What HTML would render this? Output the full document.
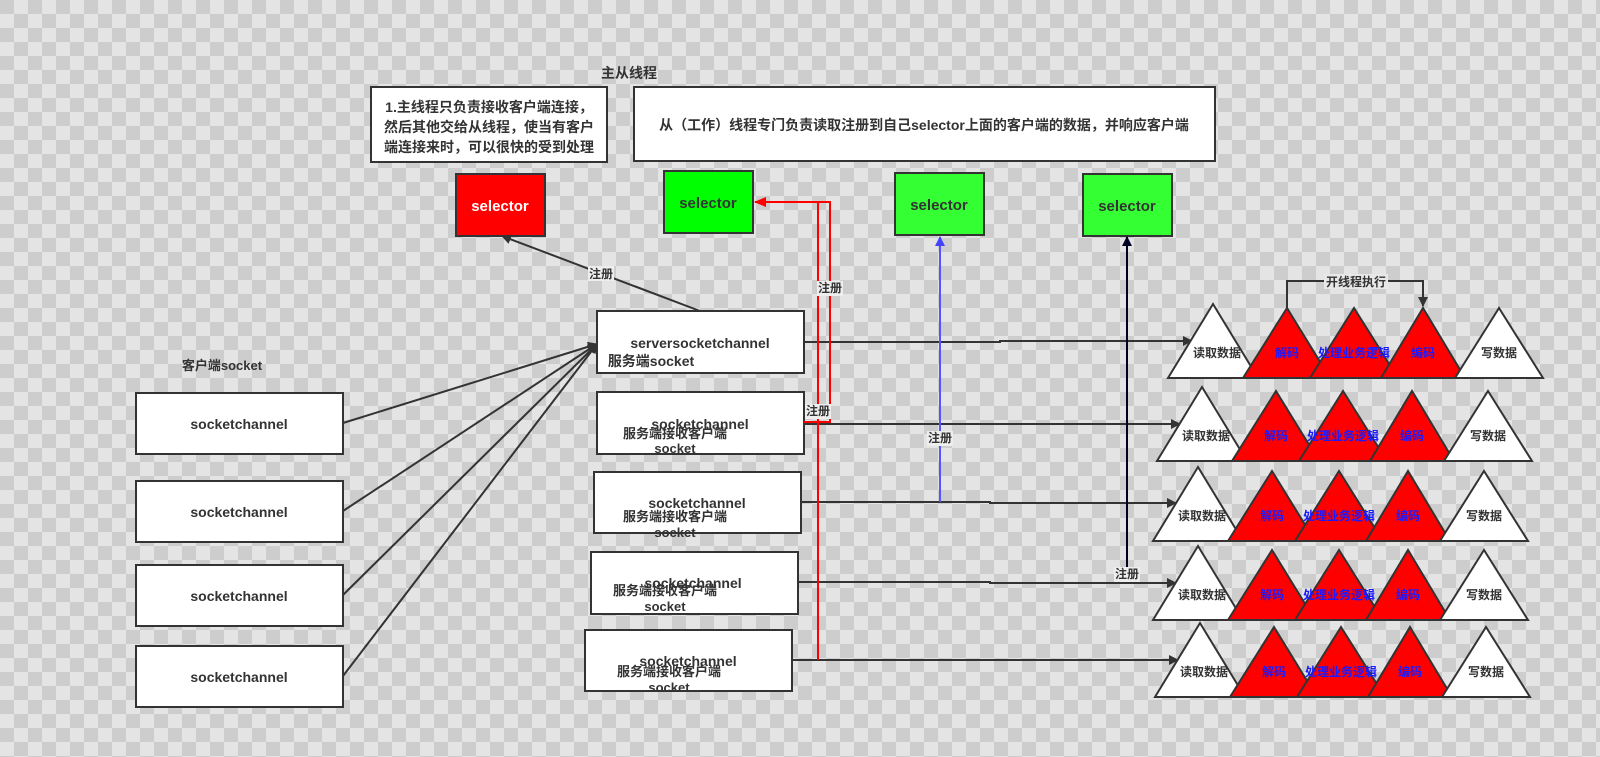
<!DOCTYPE html>
<html><head><meta charset="utf-8"><style>
html,body{margin:0;padding:0;width:1600px;height:757px;overflow:hidden}
svg{display:block}
text{font-family:"Liberation Sans","Noto Sans CJK SC",sans-serif;font-weight:bold}
</style></head><body>
<svg width="1600" height="757" viewBox="0 0 1600 757" xmlns="http://www.w3.org/2000/svg">
<defs>
<pattern id="ck" width="28" height="28" patternUnits="userSpaceOnUse">
<rect width="28" height="28" fill="#e4e4e4"/>
<rect width="14" height="14" fill="#cdcdcd"/><rect x="14" y="14" width="14" height="14" fill="#cdcdcd"/>
</pattern>
<marker id="a" markerWidth="10" markerHeight="10" refX="9" refY="5" orient="auto" markerUnits="userSpaceOnUse"><path d="M0,0L10,5L0,10z" fill="#333"/></marker>
<marker id="ar" markerWidth="12" markerHeight="10" refX="11" refY="5" orient="auto" markerUnits="userSpaceOnUse"><path d="M0,0L12,5L0,10z" fill="#f00"/></marker>
<marker id="ab" markerWidth="10" markerHeight="10" refX="9" refY="5" orient="auto" markerUnits="userSpaceOnUse"><path d="M0,0L10,5L0,10z" fill="#44f"/></marker>
<marker id="an" markerWidth="10" markerHeight="10" refX="9" refY="5" orient="auto" markerUnits="userSpaceOnUse"><path d="M0,0L10,5L0,10z" fill="#002"/></marker>
</defs>
<rect width="1600" height="757" fill="url(#ck)"/>

<g fill="#fff" stroke="#333" stroke-width="2">
<rect x="371" y="87" width="236" height="75"/>
<rect x="634" y="87" width="581" height="74"/>
<rect x="136" y="393" width="207" height="61"/>
<rect x="136" y="481" width="207" height="61"/>
<rect x="136" y="565" width="207" height="61"/>
<rect x="136" y="646" width="207" height="61"/>
<rect x="597" y="311" width="207" height="62"/>
<rect x="597" y="392" width="207" height="62"/>
<rect x="594" y="472" width="207" height="61"/>
<rect x="591" y="552" width="207" height="62"/>
<rect x="585" y="630" width="207" height="61"/>
<rect x="456" y="174" width="89" height="62" fill="#f00"/>
<rect x="664" y="171" width="89" height="62" fill="#00ff00"/>
<rect x="895" y="173" width="89" height="62" fill="#33ff33"/>
<rect x="1083" y="174" width="89" height="62" fill="#33ff33"/>
</g>

<g fill="none" stroke="#333" stroke-width="2">
<path d="M343,423L597,344" marker-end="url(#a)"/>
<path d="M343,511L597,344" marker-end="url(#a)"/>
<path d="M343,595L597,344" marker-end="url(#a)"/>
<path d="M343,676L597,344" marker-end="url(#a)"/>
<path d="M700,311L502,236" marker-end="url(#a)"/>
<path d="M804,342L1000,342L1000,341L1192,341" marker-end="url(#a)"/>
<path d="M804,424L1180,424" marker-end="url(#a)"/>
<path d="M802,502L990,502L990,503L1176,503" marker-end="url(#a)"/>
<path d="M798,582L990,582L990,583L1176,583" marker-end="url(#a)"/>
<path d="M792,660L1178,660" marker-end="url(#a)"/>
</g>
<path d="M818,660L818,202L830,202L830,422L804,422" fill="none" stroke="#f00" stroke-width="2"/>
<path d="M818,202L755,202" fill="none" stroke="#f00" stroke-width="2" marker-end="url(#ar)"/>
<path d="M940,502L940,237" fill="none" stroke="#55f" stroke-width="2" marker-end="url(#ab)"/>
<path d="M1127,582L1127,237" fill="none" stroke="#002" stroke-width="2" marker-end="url(#an)"/>

<g stroke="#333" stroke-width="2">
<polygon points="1168,378 1213,304 1258,378" fill="#fff"/>
<polygon points="1243,378 1287,308 1330,378" fill="#f00"/>
<polygon points="1310,378 1354,308 1398,378" fill="#f00"/>
<polygon points="1381,378 1423,308 1465,378" fill="#f00"/>
<polygon points="1455,378 1499,308 1543,378" fill="#fff"/>

<polygon points="1157,461 1202,387 1247,461" fill="#fff"/>
<polygon points="1232,461 1276,391 1319,461" fill="#f00"/>
<polygon points="1299,461 1343,391 1387,461" fill="#f00"/>
<polygon points="1370,461 1412,391 1454,461" fill="#f00"/>
<polygon points="1444,461 1488,391 1532,461" fill="#fff"/>

<polygon points="1153,541 1198,467 1243,541" fill="#fff"/>
<polygon points="1228,541 1272,471 1315,541" fill="#f00"/>
<polygon points="1295,541 1339,471 1383,541" fill="#f00"/>
<polygon points="1366,541 1408,471 1450,541" fill="#f00"/>
<polygon points="1440,541 1484,471 1528,541" fill="#fff"/>

<polygon points="1153,620 1198,546 1243,620" fill="#fff"/>
<polygon points="1228,620 1272,550 1315,620" fill="#f00"/>
<polygon points="1295,620 1339,550 1383,620" fill="#f00"/>
<polygon points="1366,620 1408,550 1450,620" fill="#f00"/>
<polygon points="1440,620 1484,550 1528,620" fill="#fff"/>

<polygon points="1155,697 1200,623 1245,697" fill="#fff"/>
<polygon points="1230,697 1274,627 1317,697" fill="#f00"/>
<polygon points="1297,697 1341,627 1385,697" fill="#f00"/>
<polygon points="1368,697 1410,627 1452,697" fill="#f00"/>
<polygon points="1442,697 1486,627 1530,697" fill="#fff"/>
</g>
<path d="M1287,308L1287,281L1423,281L1423,306" fill="none" stroke="#333" stroke-width="2" marker-end="url(#a)"/>
<rect x="1324" y="274" width="64" height="15" fill="#e8e8e8"/>

<g font-size="12" fill="#333" text-anchor="middle">
<text x="1356" y="286">开线程执行</text>
<g fill="#333"><rect x="588" y="266" width="26" height="15" fill="#eee"/><text x="601" y="278">注册</text>
<rect x="817" y="281" width="26" height="15" fill="#eee"/><text x="830" y="292">注册</text>
<rect x="805" y="404" width="26" height="15" fill="#eee"/><text x="818" y="415">注册</text>
<rect x="927" y="431" width="26" height="15" fill="#eee"/><text x="940" y="442">注册</text>
<rect x="1114" y="567" width="26" height="15" fill="#eee"/><text x="1127" y="578">注册</text></g>
<text x="1217" y="357">读取数据</text><text x="1206" y="440">读取数据</text><text x="1202" y="520">读取数据</text><text x="1202" y="599">读取数据</text><text x="1204" y="676">读取数据</text>
<text x="1499" y="357">写数据</text><text x="1488" y="440">写数据</text><text x="1484" y="520">写数据</text><text x="1484" y="599">写数据</text><text x="1486" y="676">写数据</text>
<g fill="#1a1aff">
<text x="1287" y="357">解码</text><text x="1354" y="357">处理业务逻辑</text><text x="1423" y="357">编码</text>
<text x="1276" y="440">解码</text><text x="1343" y="440">处理业务逻辑</text><text x="1412" y="440">编码</text>
<text x="1272" y="520">解码</text><text x="1339" y="520">处理业务逻辑</text><text x="1408" y="520">编码</text>
<text x="1272" y="599">解码</text><text x="1339" y="599">处理业务逻辑</text><text x="1408" y="599">编码</text>
<text x="1274" y="676">解码</text><text x="1341" y="676">处理业务逻辑</text><text x="1410" y="676">编码</text>
</g>
</g>

<g font-size="14" fill="#333" text-anchor="middle">
<text x="629" y="78">主从线程</text>
<text x="222" y="370" font-size="13">客户端socket</text>
<text x="489" y="112">1.主线程只负责接收客户端连接，</text>
<text x="489" y="132">然后其他交给从线程，使当有客户</text>
<text x="489" y="152">端连接来时，可以很快的受到处理</text>
<text x="924" y="130">从（工作）线程专门负责读取注册到自己selector上面的客户端的数据，并响应客户端</text>
<text x="500" y="211" fill="#fff" font-size="15">selector</text>
<text x="708" y="208" font-size="15">selector</text>
<text x="939" y="210" font-size="15">selector</text>
<text x="1127" y="211" font-size="15">selector</text>
<text x="239" y="429">socketchannel</text>
<text x="239" y="517">socketchannel</text>
<text x="239" y="601">socketchannel</text>
<text x="239" y="682">socketchannel</text>
<text x="700" y="348">serversocketchannel</text>
<text x="651" y="366">服务端socket</text>
<text x="700" y="429">socketchannel</text>
<text x="697" y="508">socketchannel</text>
<text x="693" y="588">socketchannel</text>
<text x="688" y="666">socketchannel</text>
<g font-size="13">
<text x="675" y="438">服务端接收客户端</text><text x="675" y="453">socket</text>
<text x="675" y="521">服务端接收客户端</text><text x="675" y="537">socket</text>
<text x="665" y="595">服务端接收客户端</text><text x="665" y="611">socket</text>
<text x="669" y="676">服务端接收客户端</text><text x="669" y="692">socket</text>
</g>
</g>
</svg>
</body></html>
